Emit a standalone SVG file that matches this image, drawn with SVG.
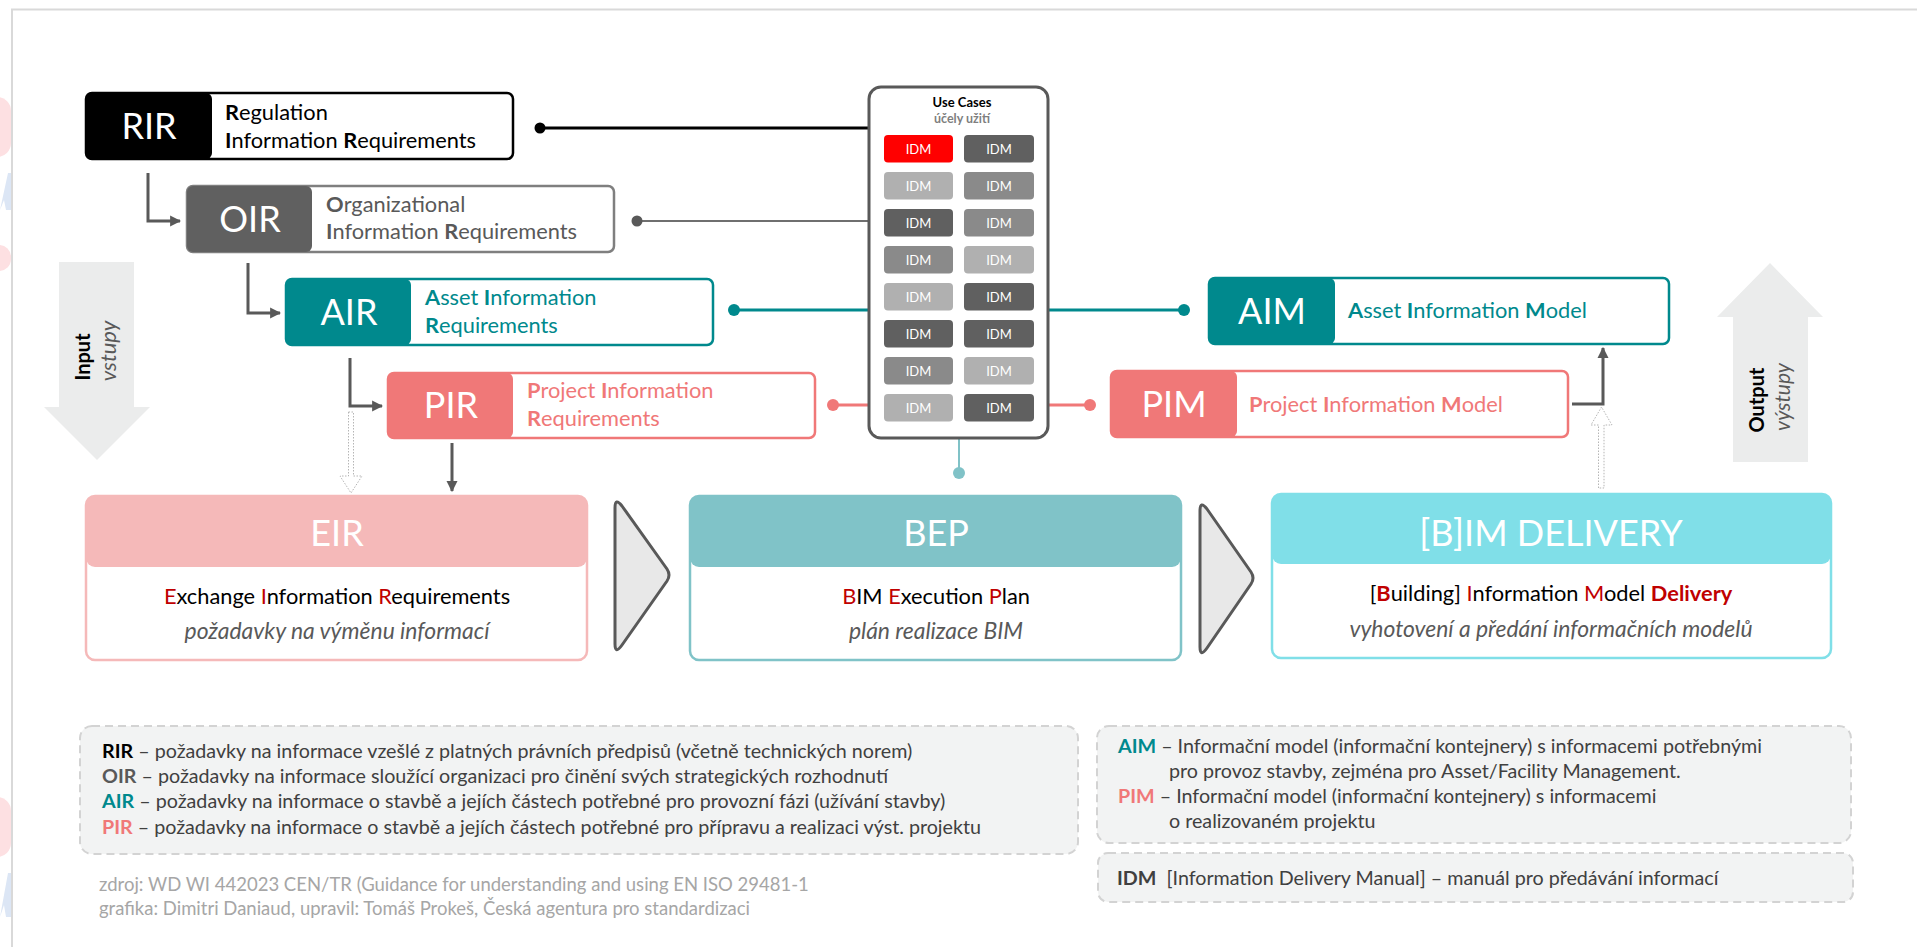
<svg xmlns="http://www.w3.org/2000/svg" width="1917" height="947" viewBox="0 0 1917 947">
<defs>
<style>
text{font-family:Lato,"Open Sans","Liberation Sans",sans-serif;}
.big{font-size:36px;fill:#fff;text-anchor:middle;}
.lbl{font-size:21.8px;}
.sub{font-size:22.9px;}
.b{font-weight:bold;}
.it{font-style:italic;fill:#595959;}
.red{fill:#c00000;}
.teal{fill:#00898d;}
.sal{fill:#f07878;}
.grey{fill:#595959;}
.leg{font-size:19.7px;fill:#404040;}
.src{font-size:18.5px;fill:#a6a6a6;}
.idm{font-size:13px;fill:#fff;text-anchor:middle;}
.legbox{fill:#f2f3f3;stroke:#d3d3d3;stroke-width:2;stroke-dasharray:8 5;}
.conn{fill:none;stroke:#595959;stroke-width:3;}
.dotted{fill:#fff;stroke:#b5b5b5;stroke-width:1;stroke-dasharray:1.5 1.5;}
.chev{fill:#e8e8e8;stroke:#595959;stroke-width:3;stroke-linejoin:round;}
</style>
<marker id="ah" viewBox="0 0 10 10" refX="9" refY="5" markerWidth="11" markerHeight="12" markerUnits="userSpaceOnUse" orient="auto">
<path d="M0,0 L10,5 L0,10 Z" fill="#595959"/>
</marker>
</defs>
<rect width="1917" height="947" fill="#fff"/>
<!-- left edge decorations -->
<g id="edge-deco">
<rect x="-20" y="97" width="31" height="60" rx="14" fill="#fde0e2"/>
<path d="M0,210 L8,173 L11,173 L11,210 L6,210 L4,200 Z" fill="#dce6f5"/>
<rect x="-20" y="245" width="31" height="26" rx="12" fill="#fde0e2"/>
<rect x="-20" y="797" width="31" height="60" rx="14" fill="#fde0e2"/>
<path d="M0,917 L8,873 L11,873 L11,917 L6,917 L4,905 Z" fill="#dce6f5"/>
</g>
<path id="frame" d="M12,947 V9.5 H1917" fill="none" stroke="#d9d9d9" stroke-width="2"/>

<!-- Input / Output arrows -->
<g id="input-arrow">
<path d="M59,262 H134 V407 H150 L97,460 L44,407 H59 Z" fill="#ebecec"/>
<text transform="translate(90,357) rotate(-90)" text-anchor="middle" font-size="20" font-weight="bold" fill="#000">Input</text>
<text transform="translate(116,351) rotate(-90)" text-anchor="middle" font-size="22" class="it">vstupy</text>
</g>
<g id="output-arrow">
<path d="M1733,462 V317 H1717 L1770,263 L1823,317 H1808 V462 Z" fill="#ebecec"/>
<text transform="translate(1764,400) rotate(-90)" text-anchor="middle" font-size="20" font-weight="bold" fill="#000">Output</text>
<text transform="translate(1790,397) rotate(-90)" text-anchor="middle" font-size="21" class="it">výstupy</text>
</g>

<!-- connectors -->
<g id="connectors">
<line x1="540" y1="128" x2="870" y2="128" stroke="#000" stroke-width="3"/>
<circle cx="540" cy="128" r="5.5" fill="#000"/>
<line x1="637" y1="221" x2="870" y2="221" stroke="#6f6f6f" stroke-width="2"/>
<circle cx="637" cy="221" r="5.5" fill="#595959"/>
<line x1="734" y1="310" x2="870" y2="310" stroke="#00898d" stroke-width="3"/>
<circle cx="734" cy="310" r="6" fill="#00898d"/>
<line x1="1048" y1="310" x2="1184" y2="310" stroke="#00898d" stroke-width="3"/>
<circle cx="1184" cy="310" r="6" fill="#00898d"/>
<line x1="833" y1="405" x2="870" y2="405" stroke="#f07878" stroke-width="3"/>
<circle cx="833" cy="405" r="6" fill="#f07878"/>
<line x1="1048" y1="405" x2="1090" y2="405" stroke="#f07878" stroke-width="3"/>
<circle cx="1090" cy="405" r="6" fill="#f07878"/>
<line x1="959" y1="438" x2="959" y2="473" stroke="#80c2c7" stroke-width="2"/>
<circle cx="959" cy="473" r="6" fill="#80c2c7"/>
<path class="conn" d="M148,173 V221 H180" marker-end="url(#ah)"/>
<path class="conn" d="M248,263 V313 H280" marker-end="url(#ah)"/>
<path class="conn" d="M350,358 V406 H382" marker-end="url(#ah)"/>
<path class="conn" d="M452,443 V491" stroke-width="4" marker-end="url(#ah)"/>
<path class="conn" d="M1572,404 H1603 V348" stroke-width="5" stroke-linejoin="miter" marker-end="url(#ah)"/>
<path class="dotted" d="M348.5,412 H353.5 V476 H362 L351,493 L340,476 H348.5 Z"/>
<path class="dotted" d="M1598.5,488 V425 H1591 L1601.5,407 L1612,425 H1604 V488 Z"/>
</g>

<!-- requirement nodes -->
<g id="RIR">
<rect x="86" y="93" width="427" height="66" rx="6" fill="#fff" stroke="#000" stroke-width="2.5"/>
<rect x="86" y="93" width="126" height="66" rx="6" fill="#000"/>
<text class="big" x="149" y="139">RIR</text>
<text class="lbl" x="225" y="120" fill="#000"><tspan class="b">R</tspan>egulation</text>
<text class="lbl" x="225" y="148" fill="#000"><tspan class="b">I</tspan>nformation <tspan class="b">R</tspan>equirements</text>
</g>
<g id="OIR">
<rect x="187" y="186" width="427" height="66" rx="6" fill="#fff" stroke="#7f7f7f" stroke-width="2.5"/>
<rect x="187" y="186" width="125" height="66" rx="6" fill="#606060"/>
<text class="big" x="250" y="232">OIR</text>
<text class="lbl grey" x="326" y="212"><tspan class="b">O</tspan>rganizational</text>
<text class="lbl grey" x="326" y="239"><tspan class="b">I</tspan>nformation <tspan class="b">R</tspan>equirements</text>
</g>
<g id="AIR">
<rect x="286" y="279" width="427" height="66" rx="6" fill="#fff" stroke="#00898d" stroke-width="2.5"/>
<rect x="286" y="279" width="125" height="66" rx="6" fill="#00898d"/>
<text class="big" x="349" y="325">AIR</text>
<text class="lbl teal" x="425" y="305"><tspan class="b">A</tspan>sset <tspan class="b">I</tspan>nformation</text>
<text class="lbl teal" x="425" y="333"><tspan class="b">R</tspan>equirements</text>
</g>
<g id="PIR">
<rect x="388" y="373" width="427" height="65" rx="6" fill="#fff" stroke="#f07878" stroke-width="2.5"/>
<rect x="388" y="373" width="125" height="65" rx="6" fill="#f07878"/>
<text class="big" x="451" y="418">PIR</text>
<text class="lbl sal" x="527" y="398"><tspan class="b">P</tspan>roject <tspan class="b">I</tspan>nformation</text>
<text class="lbl sal" x="527" y="426"><tspan class="b">R</tspan>equirements</text>
</g>
<g id="AIM">
<rect x="1209" y="278" width="460" height="66" rx="6" fill="#fff" stroke="#00898d" stroke-width="2.5"/>
<rect x="1209" y="278" width="126" height="66" rx="6" fill="#00898d"/>
<text class="big" x="1272" y="324">AIM</text>
<text class="lbl teal" x="1348" y="318"><tspan class="b">A</tspan>sset <tspan class="b">I</tspan>nformation <tspan class="b">M</tspan>odel</text>
</g>
<g id="PIM">
<rect x="1111" y="371" width="457" height="66" rx="6" fill="#fff" stroke="#f07878" stroke-width="2.5"/>
<rect x="1111" y="371" width="126" height="66" rx="6" fill="#f07878"/>
<text class="big" x="1174" y="417">PIM</text>
<text class="lbl sal" x="1249" y="412"><tspan class="b">P</tspan>roject <tspan class="b">I</tspan>nformation <tspan class="b">M</tspan>odel</text>
</g>

<!-- use cases -->
<g id="use-cases">
<rect x="869" y="87" width="179" height="351" rx="12" fill="#fff" stroke="#595959" stroke-width="3"/>
<text x="962" y="107" font-size="13" font-weight="bold" text-anchor="middle" fill="#000">Use Cases</text>
<text x="962" y="123" font-size="12.5" font-weight="bold" text-anchor="middle" fill="#7f7f7f">účely užití</text>
<g id="idm-cells">
<rect x="884" y="135" width="69" height="27.5" rx="4" fill="#ff0000"/><text class="idm" x="918.5" y="153.5">IDM</text>
<rect x="964" y="135" width="70" height="27.5" rx="4" fill="#606060"/><text class="idm" x="999" y="153.5">IDM</text>
<rect x="884" y="172" width="69" height="27.5" rx="4" fill="#b0b0b0"/><text class="idm" x="918.5" y="190.5">IDM</text>
<rect x="964" y="172" width="70" height="27.5" rx="4" fill="#8a8a8a"/><text class="idm" x="999" y="190.5">IDM</text>
<rect x="884" y="209" width="69" height="27.5" rx="4" fill="#606060"/><text class="idm" x="918.5" y="227.5">IDM</text>
<rect x="964" y="209" width="70" height="27.5" rx="4" fill="#8a8a8a"/><text class="idm" x="999" y="227.5">IDM</text>
<rect x="884" y="246" width="69" height="27.5" rx="4" fill="#8a8a8a"/><text class="idm" x="918.5" y="264.5">IDM</text>
<rect x="964" y="246" width="70" height="27.5" rx="4" fill="#b0b0b0"/><text class="idm" x="999" y="264.5">IDM</text>
<rect x="884" y="283" width="69" height="27.5" rx="4" fill="#b0b0b0"/><text class="idm" x="918.5" y="301.5">IDM</text>
<rect x="964" y="283" width="70" height="27.5" rx="4" fill="#606060"/><text class="idm" x="999" y="301.5">IDM</text>
<rect x="884" y="320" width="69" height="27.5" rx="4" fill="#606060"/><text class="idm" x="918.5" y="338.5">IDM</text>
<rect x="964" y="320" width="70" height="27.5" rx="4" fill="#606060"/><text class="idm" x="999" y="338.5">IDM</text>
<rect x="884" y="357" width="69" height="27.5" rx="4" fill="#8a8a8a"/><text class="idm" x="918.5" y="375.5">IDM</text>
<rect x="964" y="357" width="70" height="27.5" rx="4" fill="#b0b0b0"/><text class="idm" x="999" y="375.5">IDM</text>
<rect x="884" y="394" width="69" height="27.5" rx="4" fill="#b0b0b0"/><text class="idm" x="918.5" y="412.5">IDM</text>
<rect x="964" y="394" width="70" height="27.5" rx="4" fill="#606060"/><text class="idm" x="999" y="412.5">IDM</text>
</g>
</g>

<!-- process boxes -->
<g id="EIR">
<rect x="86" y="496" width="501" height="164" rx="9" fill="#fff" stroke="#f5b9b9" stroke-width="2.5"/>
<rect x="86" y="496" width="501" height="71" rx="9" fill="#f5b9b9"/>
<text class="big" x="337" y="546">EIR</text>
<text class="lbl" x="337" y="604" text-anchor="middle" fill="#000"><tspan class="red">E</tspan>xchange <tspan class="red">I</tspan>nformation <tspan class="red">R</tspan>equirements</text>
<text class="sub it" x="337" y="639" text-anchor="middle">požadavky na výměnu informací</text>
</g>
<g id="chevron1"><path class="chev" d="M615,508 Q615,497 622,506 L667,569 Q671,575 667,581 L622,645 Q615,655 615,644 Z"/></g>
<g id="BEP">
<rect x="690" y="496" width="491" height="164" rx="9" fill="#fff" stroke="#80c3c8" stroke-width="2.5"/>
<rect x="690" y="496" width="491" height="71" rx="9" fill="#80c3c8"/>
<text class="big" x="936" y="546">BEP</text>
<text class="lbl" x="936" y="604" text-anchor="middle" fill="#000"><tspan class="red">B</tspan>IM <tspan class="red">E</tspan>xecution <tspan class="red">P</tspan>lan</text>
<text class="sub it" x="936" y="639" text-anchor="middle">plán realizace BIM</text>
</g>
<g id="chevron2"><path class="chev" d="M1200,511 Q1200,500 1207,509 L1251,572 Q1255,578 1251,584 L1207,648 Q1200,658 1200,647 Z"/></g>
<g id="BIM-delivery">
<rect x="1272" y="494" width="559" height="164" rx="9" fill="#fff" stroke="#80dfe8" stroke-width="2.5"/>
<rect x="1272" y="494" width="559" height="70" rx="9" fill="#80dfe8"/>
<text class="big" x="1551" y="546">[B]IM DELIVERY</text>
<text class="lbl" x="1551" y="601" text-anchor="middle" fill="#000">[<tspan class="red b">B</tspan>uilding] <tspan class="red">I</tspan>nformation <tspan class="red">M</tspan>odel <tspan class="red b">Delivery</tspan></text>
<text class="sub it" x="1551" y="637" text-anchor="middle">vyhotovení a předání informačních modelů</text>
</g>

<!-- legends -->
<g id="legend-req">
<rect class="legbox" x="80" y="726" width="998" height="128" rx="12"/>
<text class="leg" x="102" y="758"><tspan class="b" fill="#000">RIR</tspan> – požadavky na informace vzešlé z platných právních předpisů (včetně technických norem)</text>
<text class="leg" x="102" y="783"><tspan class="b" fill="#595959">OIR</tspan> – požadavky na informace sloužící organizaci pro činění svých strategických rozhodnutí</text>
<text class="leg" x="102" y="808"><tspan class="b teal">AIR</tspan> – požadavky na informace o stavbě a jejích částech potřebné pro provozní fázi (užívání stavby)</text>
<text class="leg" x="102" y="834"><tspan class="b sal">PIR</tspan> – požadavky na informace o stavbě a jejích částech potřebné pro přípravu a realizaci výst. projektu</text>
</g>
<g id="source">
<text class="src" x="99" y="891">zdroj: WD WI 442023 CEN/TR (Guidance for understanding and using EN ISO 29481-1</text>
<text class="src" x="99" y="915">grafika: Dimitri Daniaud, upravil: Tomáš Prokeš, Česká agentura pro standardizaci</text>
</g>
<g id="legend-models">
<rect class="legbox" x="1097" y="726" width="754" height="117" rx="12"/>
<text class="leg" x="1118" y="753"><tspan class="b teal">AIM</tspan> – Informační model (informační kontejnery) s informacemi potřebnými</text>
<text class="leg" x="1169" y="778">pro provoz stavby, zejména pro Asset/Facility Management.</text>
<text class="leg" x="1118" y="803"><tspan class="b sal">PIM</tspan> – Informační model (informační kontejnery) s informacemi</text>
<text class="leg" x="1169" y="828">o realizovaném projektu</text>
</g>
<g id="legend-idm">
<rect class="legbox" x="1098" y="853" width="755" height="49" rx="10"/>
<text class="leg" x="1117" y="885" xml:space="preserve"><tspan class="b">IDM</tspan>  [Information Delivery Manual] – manuál pro předávání informací</text>
</g>
</svg>
